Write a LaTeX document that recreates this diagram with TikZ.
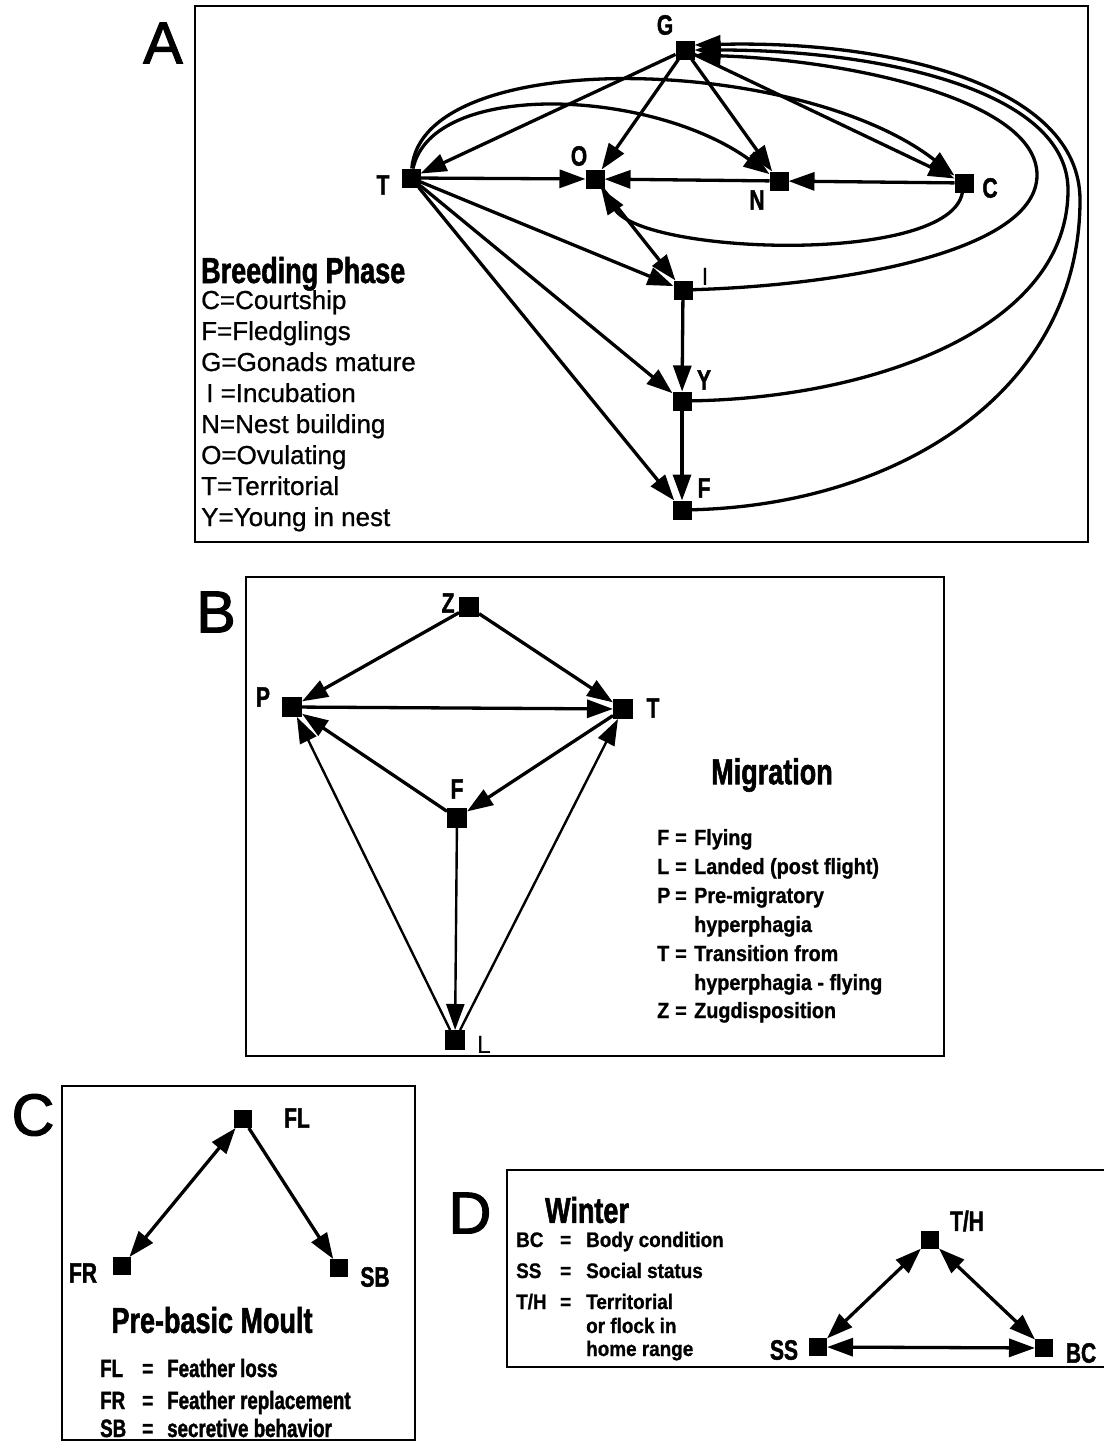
\documentclass[tikz,border=0pt]{standalone}
\usepackage{fontspec}
\setmainfont{Liberation Sans}
\newfontfamily\condfont[FakeStretch=0.75,FakeBold=1.5]{Liberation Sans}
\newfontfamily\semifont[FakeStretch=0.9,FakeBold=1]{Liberation Sans}
\newfontfamily\legfont[FakeBold=0.8]{Liberation Sans}
\newfontfamily\letterfont[FakeBold=2]{Liberation Sans}
\usetikzlibrary{arrows.meta}

\tikzset{
  state/.style={rectangle, fill=black, minimum size=19pt, inner sep=0pt, outer sep=0pt},
  panel/.style={draw, line width=2.4pt},
  letter/.style={font=\letterfont\fontsize{59}{59}\selectfont, inner sep=0pt},
  lbl/.style={font=\condfont\bfseries\fontsize{28}{28}\selectfont, inner sep=0pt},
  thinlbl/.style={font=\fontsize{25}{25}\selectfont, inner sep=0pt},
  title/.style={font=\condfont\bfseries\fontsize{36}{36}\selectfont, inner sep=0pt},
  legA/.style={font=\legfont\fontsize{26}{26}\selectfont, inner sep=0pt, anchor=base west},
  legB/.style={font=\semifont\bfseries\fontsize{22}{22}\selectfont, inner sep=0pt, anchor=base west},
  legC/.style={font=\condfont\bfseries\fontsize{25}{25}\selectfont, inner sep=0pt, anchor=base west},
  legD/.style={font=\semifont\bfseries\fontsize{21}{21}\selectfont, inner sep=0pt, anchor=base west},
  tip/.tip={Triangle[length=26pt,width=18pt]},
  arr/.style={line width=3.3pt, -tip},
  darr/.style={line width=3.3pt, tip-tip},
  thinarr/.style={line width=2.4pt, -tip},
}

\begin{document}
\begin{tikzpicture}[x=1pt,y=-1pt]
\useasboundingbox (0,0) rectangle (1103,1443);

% ---------------- A: breeding phase ----------------
\draw[panel] (195,6) rectangle (1088,542);
\node[letter] (letA) at (163,43) {A};

\node[state] (G) at (685,50) {};
\node[state] (T) at (411,178) {};
\node[state] (O) at (595,179) {};
\node[state] (N) at (779,181) {};
\node[state] (C) at (964,183) {};
\node[state] (I) at (683,290) {};
\node[state] (Y) at (682,401) {};
\node[state] (F) at (682,510) {};

\node[lbl] (lG) at (665,25) {G};
\node[lbl] (lT) at (383,185) {T};
\node[lbl] (lO) at (579,156) {O};
\node[lbl] (lN) at (757,200) {N};
\node[lbl] (lC) at (990,188) {C};
\node[thinlbl] (lI) at (705,277) {I};
\node[lbl] (lY) at (704,380) {Y};
\node[lbl] (lF) at (704,488) {F};

\draw[arr] (G) -- (T);
\draw[arr] (G) -- (O);
\draw[arr] (G) -- (N);
\draw[arr] (G) -- (C);
\draw[arr] (T) -- (O);
\draw[arr] (N) -- (O);
\draw[arr] (C) -- (N);
\draw[arr] (T) .. controls (432,80) and (650,88) .. (N);
\draw[arr] (T) .. controls (422,45) and (800,55) .. (C);
\draw[arr] (C) .. controls (950,265) and (645,255) .. (O);
\draw[arr] (O) -- (I);
\draw[arr] (T) -- (I);
\draw[arr] (T) -- (Y);
\draw[arr] (T) -- (F);
\draw[arr] (I) -- (Y);
\draw[arr] (Y) -- (F);
\draw[arr] (I) .. controls (850,285) and (1037,250) .. (1037,175)
               .. controls (1037,100) and (850,60) .. ([yshift=-5pt]G.east);
\draw[arr] (Y) .. controls (870,398) and (1068,330) .. (1068,190)
               .. controls (1068,90) and (880,50) .. (G.east);
\draw[arr] (F) .. controls (900,505) and (1080,390) .. (1080,200)
               .. controls (1080,85) and (890,40) .. ([yshift=5pt]G.east);

\node[title, anchor=base west] (tA) at (201,283) {Breeding Phase};
\node[legA] (a1) at (201,309) {C=Courtship};
\node[legA] (a2) at (201,340) {F=Fledglings};
\node[legA] (a3) at (201,371) {G=Gonads mature};
\node[legA] (a4) at (201,402) {\hspace{5pt}I =Incubation};
\node[legA] (a5) at (201,433) {N=Nest building};
\node[legA] (a6) at (201,464) {O=Ovulating};
\node[legA] (a7) at (201,495) {T=Territorial};
\node[legA] (a8) at (201,526) {Y=Young in nest};

% ---------------- B: migration ----------------
\draw[panel] (246,577) rectangle (944,1056);
\node[letter] (letB) at (216,612) {B};

\node[state, minimum size=20pt] (Z) at (469,607) {};
\node[state, minimum size=20pt] (P) at (292,707) {};
\node[state, minimum size=20pt] (Tb) at (623,709) {};
\node[state, minimum size=20pt] (Fb) at (457,818) {};
\node[state, minimum size=20pt] (L) at (455,1040) {};

\node[lbl] (lZ) at (448,603) {Z};
\node[lbl] (lP) at (263,697) {P};
\node[lbl] (lTb) at (653,708) {T};
\node[lbl] (lFb) at (457,789) {F};
\node[thinlbl] (lL) at (484,1045) {L};

\draw[arr] (Z) -- (P);
\draw[arr] (Z) -- (Tb);
\draw[arr] (P) -- (Tb);
\draw[arr] (Fb) -- (P);
\draw[arr] (Tb) -- (Fb);
\draw[thinarr] (Fb) -- (L);
\draw[thinarr] (L) -- (P);
\draw[thinarr] (L) -- (Tb);

\node[title] (tB) at (772,775) {Migration};
\node[legB] (b1) at (657,845) {\makebox[18pt][l]{F}\makebox[19pt][l]{=}Flying};
\node[legB] (b2) at (657,874) {\makebox[18pt][l]{L}\makebox[19pt][l]{=}Landed (post flight)};
\node[legB] (b3) at (657,903) {\makebox[18pt][l]{P}\makebox[19pt][l]{=}Pre-migratory};
\node[legB] (b4) at (694,932) {hyperphagia};
\node[legB] (b5) at (657,961) {\makebox[18pt][l]{T}\makebox[19pt][l]{=}Transition from};
\node[legB] (b6) at (694,990) {hyperphagia - flying};
\node[legB] (b7) at (657,1018) {\makebox[18pt][l]{Z}\makebox[19pt][l]{=}Zugdisposition};

% ---------------- C: pre-basic moult ----------------
\draw[panel] (62,1086) rectangle (415,1440);
\node[letter] (letC) at (33,1115) {C};

\node[state, minimum size=18pt] (FL) at (243,1119) {};
\node[state, minimum size=18pt] (FR) at (122,1266) {};
\node[state, minimum size=18pt] (SB) at (339,1268) {};

\node[lbl] (lFL) at (297,1118) {FL};
\node[lbl] (lFR) at (83,1273) {FR};
\node[lbl] (lSB) at (375,1277) {SB};

\draw[darr] (FR) -- (FL);
\draw[arr] (FL) -- (SB);

\node[title] (tC) at (212,1320) {Pre-basic Moult};
\node[legC] (c1) at (100,1377) {\makebox[42pt][l]{FL}\makebox[25pt][l]{=}Feather loss};
\node[legC] (c2) at (100,1409) {\makebox[42pt][l]{FR}\makebox[25pt][l]{=}Feather replacement};
\node[legC] (c3) at (100,1437) {\makebox[42pt][l]{SB}\makebox[25pt][l]{=}secretive behavior};

% ---------------- D: winter ----------------
\draw[panel] (1110,1170) -- (507,1170) -- (507,1367) -- (1110,1367);
\node[letter] (letD) at (470,1213) {D};

\node[state, minimum size=18pt] (TH) at (930,1240) {};
\node[state, minimum size=18pt] (SS) at (818,1347) {};
\node[state, minimum size=18pt] (BC) at (1044,1348) {};

\node[lbl] (lTH) at (967,1221) {T/H};
\node[lbl] (lSS) at (784,1350) {SS};
\node[lbl] (lBC) at (1081,1353) {BC};

\draw[darr] (TH) -- (SS);
\draw[darr] (TH) -- (BC);
\draw[darr] (SS) -- (BC);

\node[title] (tD) at (587,1210) {Winter};
\node[legD] (d1) at (516,1247) {\makebox[44pt][l]{BC}\makebox[26pt][l]{=}Body condition};
\node[legD] (d2) at (516,1278) {\makebox[44pt][l]{SS}\makebox[26pt][l]{=}Social status};
\node[legD] (d3) at (516,1309) {\makebox[44pt][l]{T/H}\makebox[26pt][l]{=}Territorial};
\node[legD] (d4) at (586,1333) {or flock in};
\node[legD] (d5) at (586,1356) {home range};

\end{tikzpicture}
\end{document}
